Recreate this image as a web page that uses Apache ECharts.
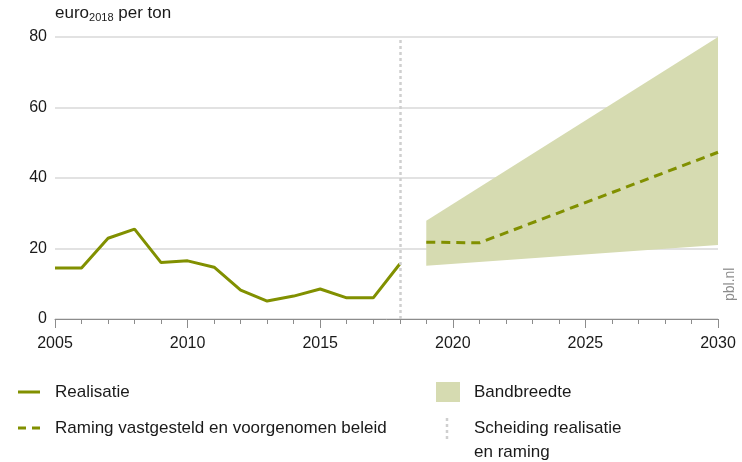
<!DOCTYPE html>
<html>
<head>
<meta charset="utf-8">
<script src="https://cdn.jsdelivr.net/npm/echarts@6/dist/echarts.min.js"></script>
<style>
  html, body { margin: 0; padding: 0; background: #fff; }
  #main { width: 742px; height: 462px; }
</style>
</head>
<body>
<div id="main"></div>
<script>
// realisatie 2005-2018
const realYears = [2005, 2006, 2007, 2008, 2009, 2010, 2011, 2012, 2013, 2014, 2015, 2016, 2017, 2018]
const realValues = [14.5, 14.5, 22.9, 25.5, 16.0, 16.5, 14.7, 8.2, 5.1, 6.5, 8.5, 6.0, 6.0, 15.6]

// raming (knikpunten)
const ramingYears = [2019, 2021, 2030]
const ramingValues = [21.8, 21.6, 47.3]

// bandbreedte
const bandYears = [2019, 2030]
const bandLow = [15.1, 21.0]
const bandHigh = [27.9, 80]

const splitYear = 2018
const yTicks = [0, 20, 40, 60, 80]

const olive = '#819000'
const bandColor = '#d6dbb1'
const font = 'Liberation Sans'

var chart = echarts.init(document.getElementById('main'))

const pairs = (xs, ys) => xs.map((x, i) => [x, ys[i]])

var option = {
  animation: false,
  textStyle: { fontFamily: font },
  grid: { left: 55, right: 24, top: 37, bottom: 143 },
  xAxis: {
    type: 'value',
    min: 2005,
    max: 2030,
    interval: 5,
    axisLine: { lineStyle: { color: '#8c8c8c', width: 1 } },
    axisTick: { length: 9, lineStyle: { color: '#8c8c8c' } },
    minorTick: { show: true, splitNumber: 5, length: 5, lineStyle: { color: '#8c8c8c' } },
    splitLine: { show: false },
    axisLabel: { color: '#1a1a1a', fontSize: 16, margin: 17, formatter: v => String(v) }
  },
  yAxis: {
    type: 'value',
    min: yTicks[0],
    max: yTicks[yTicks.length - 1],
    interval: 20,
    axisLine: { show: false },
    axisTick: { show: false },
    splitLine: { lineStyle: { color: '#d9d9d9', width: 1.5 } },
    axisLabel: { color: '#1a1a1a', fontSize: 16, margin: 8 }
  },
  series: [
    {
      name: 'Bandbreedte',
      type: 'custom',
      silent: true,
      data: [0],
      renderItem: function (params, api) {
        const top = bandYears.map((y, i) => api.coord([y, bandHigh[i]]))
        const bottom = bandYears.map((y, i) => api.coord([y, bandLow[i]])).reverse()
        return {
          type: 'polygon',
          shape: { points: top.concat(bottom) },
          style: { fill: bandColor }
        }
      },
      z: 1
    },
    {
      name: 'Realisatie',
      type: 'line',
      data: pairs(realYears, realValues),
      symbol: 'none',
      lineStyle: { color: olive, width: 3 },
      markLine: {
        silent: true,
        symbol: 'none',
        label: { show: false },
        lineStyle: { color: '#cfcfcf', type: [3, 3], width: 2.5 },
        data: [{ xAxis: splitYear }]
      },
      z: 3
    },
    {
      name: 'Raming',
      type: 'line',
      data: pairs(ramingYears, ramingValues),
      symbol: 'none',
      lineStyle: { color: olive, width: 3, type: [9, 6] },
      z: 3
    }
  ],
  graphic: [
    {
      type: 'text', left: 55, top: 5,
      style: {
        text: '{a|euro}{s|2018}{a| per ton}',
        rich: {
          a: { fontSize: 17, fontFamily: font, fill: '#1a1a1a' },
          s: { fontSize: 11, fontFamily: font, fill: '#1a1a1a', padding: [9, 0, 0, 0] }
        }
      }
    },
    {
      type: 'text', x: 723, y: 301, rotation: Math.PI / 2,
      style: { text: 'pbl.nl', fontSize: 14, fontFamily: font, fill: '#8c8c8c' }
    },
    // legenda
    { type: 'line', shape: { x1: 18, y1: 392, x2: 40, y2: 392 }, style: { stroke: olive, lineWidth: 3 } },
    { type: 'text', x: 55, y: 392, style: { text: 'Realisatie', fontSize: 17, fontFamily: font, fill: '#1a1a1a', textVerticalAlign: 'middle' } },
    { type: 'line', shape: { x1: 18, y1: 428, x2: 40, y2: 428 }, style: { stroke: olive, lineWidth: 3, lineDash: [8, 6] } },
    { type: 'text', x: 55, y: 428, style: { text: 'Raming vastgesteld en voorgenomen beleid', fontSize: 17, fontFamily: font, fill: '#1a1a1a', textVerticalAlign: 'middle' } },
    { type: 'rect', shape: { x: 436, y: 382, width: 24, height: 20 }, style: { fill: bandColor } },
    { type: 'text', x: 474, y: 392, style: { text: 'Bandbreedte', fontSize: 17, fontFamily: font, fill: '#1a1a1a', textVerticalAlign: 'middle' } },
    { type: 'line', shape: { x1: 447, y1: 418, x2: 447, y2: 441 }, style: { stroke: '#cfcfcf', lineWidth: 2.5, lineDash: [3, 3] } },
    { type: 'text', x: 474, y: 428, style: { text: 'Scheiding realisatie', fontSize: 17, fontFamily: font, fill: '#1a1a1a', textVerticalAlign: 'middle' } },
    { type: 'text', x: 474, y: 452, style: { text: 'en raming', fontSize: 17, fontFamily: font, fill: '#1a1a1a', textVerticalAlign: 'middle' } }
  ]
}

chart.setOption(option)
</script>
</body>
</html>
